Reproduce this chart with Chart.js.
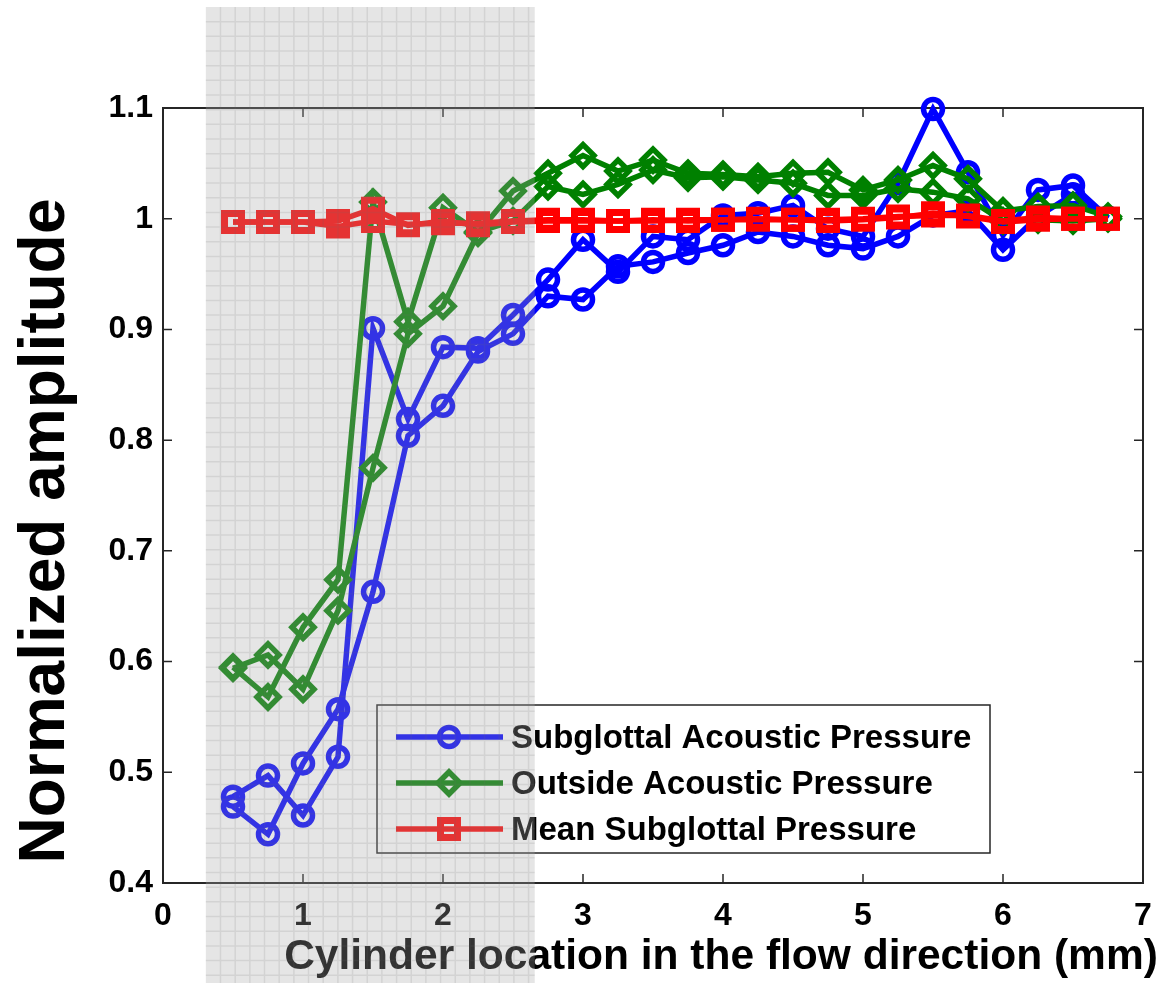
<!DOCTYPE html>
<html>
<head>
<meta charset="utf-8">
<script src="https://cdn.jsdelivr.net/npm/chart.js@4.4.0/dist/chart.umd.min.js"></script>
<style>
  html, body { margin: 0; padding: 0; background: #ffffff; }
  #wrap { width: 1162px; height: 983px; position: relative; }
</style>
</head>
<body>
<div id="wrap"><canvas id="ampChart"></canvas></div>
<script>
// cylinder positions (mm)
const locations = [0.5, 0.75, 1.0, 1.25, 1.5, 1.75, 2.0, 2.25, 2.5, 2.75, 3.0, 3.25, 3.5,
                   3.75, 4.0, 4.25, 4.5, 4.75, 5.0, 5.25, 5.5, 5.75, 6.0, 6.25, 6.5, 6.75];

// two runs for each quantity
const subglottalRun1 = [0.478, 0.497, 0.461, 0.514, 0.901, 0.819, 0.884, 0.883, 0.913, 0.945, 0.981, 0.952, 0.984,
                        0.981, 1.003, 1.005, 1.012, 0.991, 0.984, 1.032, 1.099, 1.042, 0.985, 1.026, 1.030, 1.001];
const subglottalRun2 = [0.469, 0.444, 0.508, 0.557, 0.663, 0.804, 0.831, 0.880, 0.896, 0.930, 0.927, 0.957, 0.961,
                        0.969, 0.976, 0.988, 0.984, 0.976, 0.973, 0.984, 1.003, 1.007, 0.972, 1.002, 1.022, 1.000];
const outsideRun1 = [0.595, 0.568, 0.631, 0.674, 1.015, 0.907, 1.010, 0.988, 0.998, 1.029, 1.022, 1.031, 1.044,
                     1.037, 1.038, 1.035, 1.032, 1.021, 1.021, 1.027, 1.024, 1.018, 0.998, 0.999, 0.998, 1.000];
const outsideRun2 = [0.594, 0.606, 0.575, 0.646, 0.775, 0.896, 0.921, 0.987, 1.025, 1.041, 1.057, 1.043, 1.053,
                     1.041, 1.040, 1.038, 1.041, 1.042, 1.026, 1.035, 1.048, 1.036, 1.007, 1.011, 1.012, 1.002];
const meanRun1 = [0.997, 0.997, 0.997, 0.998, 1.009, 0.994, 0.998, 0.994, 0.997, 0.998, 0.998, 0.998, 0.999,
                  0.998, 0.999, 0.999, 0.999, 0.998, 0.999, 1.001, 1.005, 1.002, 0.997, 0.999, 1.000, 1.000];
const meanRun2 = [0.997, 0.997, 0.997, 0.993, 0.998, 0.995, 0.996, 0.996, 0.998, 0.999, 0.999, 0.998, 0.998,
                  0.999, 0.999, 1.000, 0.999, 0.999, 1.000, 1.002, 1.003, 1.003, 0.998, 1.001, 1.000, 1.000];

const seriesNames = ['Subglottal Acoustic Pressure', 'Outside Acoustic Pressure', 'Mean Subglottal Pressure'];
const xTicks = [0, 1, 2, 3, 4, 5, 6, 7];
const yTicks = [0.4, 0.5, 0.6, 0.7, 0.8, 0.9, 1.0, 1.1];
const shadedSpan = [0.306, 2.655]; // grey band over the cylinder-inside zone (mm)

const FONT = '"Liberation Sans", Arial, Helvetica, sans-serif';

const styles = [
    { color: '#0000ff', pointStyle: 'circle', radius: 9.5, pointBorder: 5.5 },
    { color: '#008000', pointStyle: 'rectRot', radius: 11, pointBorder: 5.5 },
    { color: '#ff0000', pointStyle: 'rect', radius: 12, pointBorder: 7 }
];

function toPoints(values) {
    return locations.map((x, i) => ({ x: x, y: values[i] }));
}

function makeDataset(label, values, s, order) {
    return {
        label: label,
        data: toPoints(values),
        borderColor: s.color,
        borderWidth: 5.5,
        backgroundColor: 'rgba(0,0,0,0)',
        pointStyle: s.pointStyle,
        pointRadius: s.radius,
        pointBorderColor: s.color,
        pointBackgroundColor: 'rgba(0,0,0,0)',
        pointBorderWidth: s.pointBorder,
        tension: 0,
        clip: false,
        order: order
    };
}

// draws a marker like the chart does
function drawMarker(ctx, s, x, y) {
    ctx.save();
    ctx.strokeStyle = s.color;
    ctx.lineWidth = s.pointBorder;
    ctx.beginPath();
    if (s.pointStyle === 'circle') {
        ctx.arc(x, y, s.radius, 0, Math.PI * 2);
    } else if (s.pointStyle === 'rectRot') {
        ctx.moveTo(x - s.radius, y);
        ctx.lineTo(x, y - s.radius);
        ctx.lineTo(x + s.radius, y);
        ctx.lineTo(x, y + s.radius);
        ctx.closePath();
    } else {
        const h = Math.SQRT1_2 * s.radius;
        ctx.rect(x - h, y - h, 2 * h, 2 * h);
    }
    ctx.stroke();
    ctx.restore();
}

const framePlugin = {
    id: 'frame',
    beforeDatasetsDraw(chart) {
        const { ctx, chartArea: a, scales } = chart;
        ctx.save();
        ctx.strokeStyle = '#262626';
        ctx.lineWidth = 2;
        ctx.strokeRect(a.left, a.top, a.right - a.left, a.bottom - a.top);
        ctx.lineWidth = 1.5;
        ctx.beginPath();
        xTicks.forEach(v => {
            const px = scales.x.getPixelForValue(v);
            ctx.moveTo(px, a.bottom); ctx.lineTo(px, a.bottom - 9);
            ctx.moveTo(px, a.top); ctx.lineTo(px, a.top + 9);
        });
        yTicks.forEach(v => {
            const py = scales.y.getPixelForValue(v);
            ctx.moveTo(a.left, py); ctx.lineTo(a.left + 9, py);
            ctx.moveTo(a.right, py); ctx.lineTo(a.right - 9, py);
        });
        ctx.stroke();
        ctx.restore();
    },
    afterDraw(chart) {
        const { ctx, scales } = chart;
        const H = chart.height;
        ctx.save();

        // axis titles
        ctx.fillStyle = '#000000';
        ctx.textAlign = 'center';
        ctx.textBaseline = 'alphabetic';
        ctx.font = 'bold 42.5px ' + FONT;
        ctx.fillText('Cylinder location in the flow direction (mm)', 721, 969);
        ctx.save();
        ctx.translate(64, 531);
        ctx.rotate(-Math.PI / 2);
        ctx.font = 'bold 64px ' + FONT;
        ctx.fillText('Normalized amplitude', 0, 0);
        ctx.restore();

        // legend box
        const box = { x: 377, y: 705, w: 613, h: 148 };
        ctx.fillStyle = '#ffffff';
        ctx.fillRect(box.x, box.y, box.w, box.h);
        ctx.strokeStyle = '#262626';
        ctx.lineWidth = 1.5;
        ctx.strokeRect(box.x, box.y, box.w, box.h);
        ctx.font = 'bold 33px ' + FONT;
        ctx.textAlign = 'left';
        ctx.textBaseline = 'middle';
        seriesNames.forEach((name, i) => {
            const ry = 737 + i * 46;
            const s = styles[i];
            ctx.strokeStyle = s.color;
            ctx.lineWidth = 5.5;
            ctx.beginPath();
            ctx.moveTo(396, ry);
            ctx.lineTo(503, ry);
            ctx.stroke();
            drawMarker(ctx, s, 449, ry);
            ctx.fillStyle = '#000000';
            ctx.fillText(name, 511, ry + 2);
        });

        // translucent grey band with its grid
        const left = scales.x.getPixelForValue(shadedSpan[0]);
        const right = scales.x.getPixelForValue(shadedSpan[1]);
        const top = 7;
        ctx.fillStyle = 'rgba(170,170,170,0.30)';
        ctx.fillRect(left, top, right - left, H - top);
        ctx.strokeStyle = 'rgba(110,110,110,0.15)';
        ctx.lineWidth = 1.5;
        ctx.beginPath();
        const step = 14.67;
        for (let gx = left + step; gx < right; gx += step) {
            ctx.moveTo(gx, top); ctx.lineTo(gx, H);
        }
        for (let gy = top + step; gy < H; gy += step) {
            ctx.moveTo(left, gy); ctx.lineTo(right, gy);
        }
        ctx.stroke();
        ctx.restore();
    }
};

const ctx = document.getElementById('ampChart');
new Chart(ctx, {
    type: 'line',
    data: {
        datasets: [
            makeDataset(seriesNames[0], subglottalRun1, styles[0], 3),
            makeDataset(seriesNames[0], subglottalRun2, styles[0], 2),
            makeDataset(seriesNames[1], outsideRun1, styles[1], 1),
            makeDataset(seriesNames[1], outsideRun2, styles[1], 1),
            makeDataset(seriesNames[2], meanRun1, styles[2], 0),
            makeDataset(seriesNames[2], meanRun2, styles[2], 0)
        ]
    },
    options: {
        responsive: true,
        maintainAspectRatio: false,
        animation: false,
        layout: { padding: { top: 108, right: 11, left: 0, bottom: 0 } },
        plugins: {
            legend: { display: false },
            tooltip: { enabled: false }
        },
        scales: {
            x: {
                type: 'linear',
                min: 0,
                max: 7,
                afterFit: s => { s.height = 100; s.paddingLeft = 0; s.paddingRight = 0; },
                afterBuildTicks: s => { s.ticks = xTicks.map(v => ({ value: v })); },
                grid: { display: false, drawTicks: false },
                border: { display: false },
                ticks: {
                    color: '#000000',
                    padding: 14,
                    font: { family: FONT, size: 32, weight: 'bold' },
                    callback: v => String(v)
                }
            },
            y: {
                type: 'linear',
                min: 0.4,
                max: 1.1,
                afterFit: s => { s.width = 163; s.paddingTop = 0; s.paddingBottom = 0; },
                afterBuildTicks: s => { s.ticks = yTicks.map(v => ({ value: v })); },
                grid: { display: false, drawTicks: false },
                border: { display: false },
                ticks: {
                    color: '#000000',
                    padding: 10,
                    font: { family: FONT, size: 32, weight: 'bold' },
                    callback: v => String(Number(v.toFixed(1)))
                }
            }
        }
    },
    plugins: [framePlugin]
});
</script>
</body>
</html>
